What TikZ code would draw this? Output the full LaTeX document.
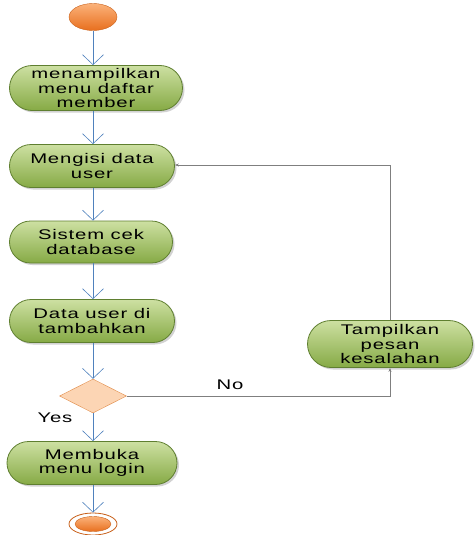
\documentclass[tikz,border=0pt]{standalone}
\usepackage{fontspec}
\newfontfamily\nodefont[FakeStretch=1.45,LetterSpace=6]{Liberation Sans}
\usetikzlibrary{shapes.misc,shapes.geometric,arrows.meta,shadows}
\definecolor{actlight}{HTML}{CDE0A2}
\definecolor{actdark}{HTML}{86AA45}
\definecolor{actline}{HTML}{5F7F30}
\definecolor{flowblue}{HTML}{4F81BD}
\definecolor{startlight}{HTML}{FBB27A}
\definecolor{startdark}{HTML}{E86F1E}
\definecolor{startline}{HTML}{C8601A}
\definecolor{decfill}{HTML}{FCD5B4}
\definecolor{decline}{HTML}{E08A45}
\definecolor{backline}{HTML}{7F7F7F}
\begin{document}
\begin{tikzpicture}[x=1pt,y=-1pt,font=\nodefont\fontsize{14}{14.5}\selectfont]
	\tikzstyle{act-node}=[rounded rectangle,draw=actline,thick,top color=actlight,bottom color=actdark,
		align=center,inner sep=0pt,drop shadow={shadow xshift=2pt,shadow yshift=-2pt,fill=black!35}]
	\tikzstyle{start-node}=[ellipse,draw=startline,top color=startlight,bottom color=startdark,
		minimum width=48pt,minimum height=27pt,inner sep=0pt]
	\tikzstyle{dec-node}=[diamond,draw=decline,fill=decfill,aspect=2,minimum width=67pt,minimum height=34pt,inner sep=0pt]
	\tikzstyle{flow}=[draw=flowblue,semithick,-{Straight Barb[length=10pt,width=21pt]}]
	\tikzstyle{back}=[draw=backline,semithick,-{Stealth[length=4pt,width=3pt]}]
	\useasboundingbox (0,0) rectangle (475,535);

	% start and end
	\node[start-node] (start) at (93,17) {};
	\node[ellipse,draw=startline,thick,minimum width=48pt,minimum height=22pt,inner sep=0pt] (end-ring) at (93,524) {};
	\node[start-node,minimum width=36pt,minimum height=15pt] (end) at (93,524) {};

	% activities
	\node[act-node,minimum width=173pt,minimum height=45pt] (show-menu) at (96,88) {menampilkan\\menu daftar\\member};
	\node[act-node,minimum width=165pt,minimum height=43pt] (fill-user) at (92,166) {Mengisi data\\user};
	\node[act-node,minimum width=163pt,minimum height=42pt] (check-db) at (91,242) {Sistem cek\\database};
	\node[act-node,minimum width=165pt,minimum height=43pt] (add-user) at (92,321) {Data user di\\tambahkan};
	\node[act-node,minimum width=170pt,minimum height=43pt] (open-login) at (92,463) {Membuka\\menu login};
	\node[act-node,minimum width=165pt,minimum height=47pt] (show-error) at (390,344) {Tampilkan\\pesan\\kesalahan};

	% decision
	\node[dec-node] (check) at (93,396) {};
	\node (yes) at (55,418) {Yes};
	\node (no) at (230,385) {No};

	\coordinate (turn-low) at (390,396);
	\coordinate (turn-high) at (390,165);

	\draw[flow] (start) -- (start |- show-menu.north);
	\draw[flow] (start |- show-menu.south) -- (start |- fill-user.north);
	\draw[flow] (start |- fill-user.south) -- (start |- check-db.north);
	\draw[flow] (start |- check-db.south) -- (start |- add-user.north);
	\draw[flow] (start |- add-user.south) -- (check);
	\draw[flow] (check) -- (start |- open-login.north);
	\draw[flow] (start |- open-login.south) -- (end-ring);

	\draw[back] (check.east) -- (turn-low) -- (show-error.south);
	\draw[back] (show-error.north) -- (turn-high) -- (fill-user.east |- turn-high);
\end{tikzpicture}
\end{document}
